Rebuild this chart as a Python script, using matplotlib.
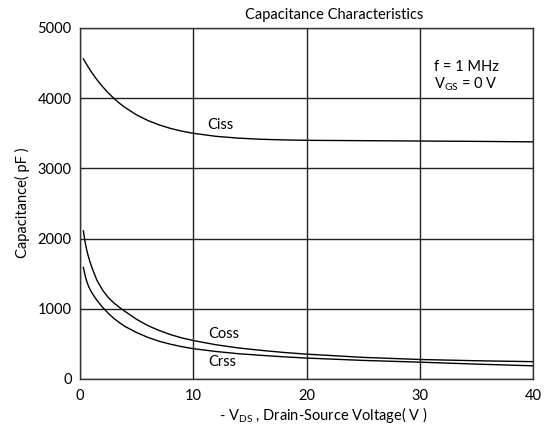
import matplotlib
matplotlib.use("Agg")
import matplotlib.pyplot as plt

plt.rcParams['font.family'] = ['Lato', 'DejaVu Sans']
plt.rcParams['mathtext.fontset'] = 'custom'
plt.rcParams['mathtext.rm'] = 'Lato'
plt.rcParams['mathtext.it'] = 'Lato'

# values
vds = [0.3, 0.4, 0.5, 0.6, 0.7, 0.8, 0.9, 1, 1.2, 1.5, 2, 2.5, 3, 3.5, 4,
       5, 6, 7, 8, 9, 10, 12, 14, 16, 18, 20, 25, 30, 35, 40]
ciss = [4560, 4532, 4504, 4477, 4451, 4425, 4400, 4376, 4329, 4263, 4163,
        4075, 3996, 3926, 3865, 3762, 3682, 3619, 3569, 3530, 3500, 3457,
        3431, 3415, 3406, 3400, 3395, 3390, 3385, 3378]
coss = [2110, 2000, 1910, 1835, 1770, 1712, 1660, 1612, 1525, 1405, 1265,
        1160, 1082, 1018, 960, 850, 760, 690, 632, 585, 548, 488,
        442, 408, 378, 354, 308, 278, 260, 247]
crss = [1590, 1510, 1445, 1390, 1345, 1305, 1272, 1243, 1190, 1120, 1020,
        935, 862, 800, 746, 662, 592, 537, 495, 460, 432, 392,
        360, 337, 316, 298, 265, 240, 212, 188]

xticks = [0, 10, 20, 30, 40]
yticks = [0, 1000, 2000, 3000, 4000, 5000]

fig = plt.figure(figsize=(5.46, 4.25), dpi=100)
ax = fig.add_axes([80 / 546, 1 - 379 / 425, 453 / 546, 351 / 425])

for vals in (ciss, coss, crss):
    ax.plot(vds, vals, color='black', lw=1.0)

ax.set_xlim(0, 40)
ax.set_ylim(0, 5000)
ax.set_xticks(xticks)
ax.set_yticks(yticks)
ax.grid(True, color='#222222', lw=1.0)
ax.tick_params(length=0, labelsize=10.5, pad=7)
ax.tick_params(axis='y', pad=6)
for s in ax.spines.values():
    s.set_color('#333333')
    s.set_linewidth(1.0)

ax.text(11.2, 3620, 'Ciss', fontsize=10.5, va='center')
ax.text(11.3, 640, 'Coss', fontsize=10.5, va='center')
ax.text(11.3, 240, 'Crss', fontsize=10.5, va='center')
ax.text(31.3, 4450, 'f = 1 MHz', fontsize=10.5, va='center')
ax.text(31.3, 4200, r'$\mathregular{V_{GS}}$ = 0 V', fontsize=10.5, va='center')

fig.text(334 / 546, 1 - 15 / 425, 'Capacitance Characteristics', fontsize=10.5,
         ha='center', va='center')
fig.text(323 / 546, 1 - 415 / 425, r'- $\mathregular{V_{DS}}$ , Drain-Source Voltage( V )',
         fontsize=10.5, ha='center', va='center')
fig.text(22 / 546, 1 - 203 / 425, 'Capacitance( pF )', fontsize=10.5,
         ha='center', va='center', rotation=90)

fig.savefig('out.png', dpi=100)
